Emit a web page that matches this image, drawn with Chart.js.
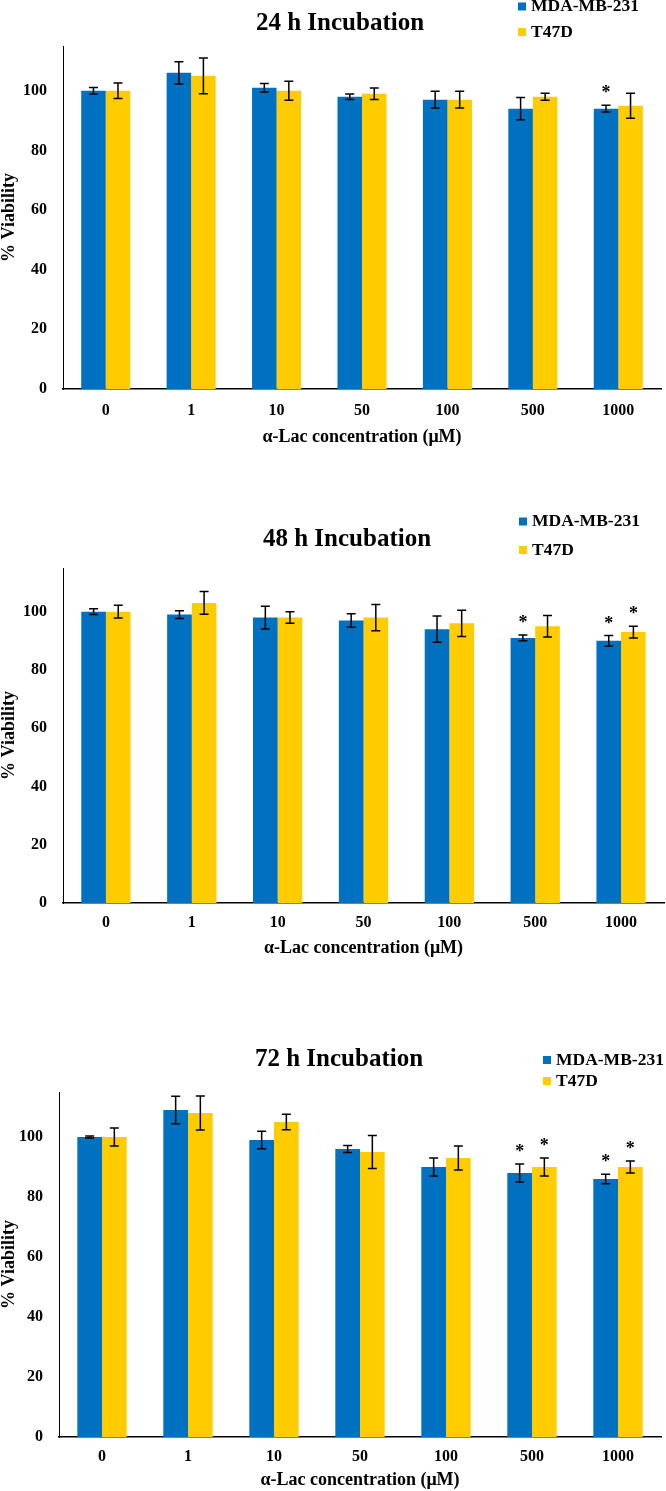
<!DOCTYPE html>
<html>
<head>
<meta charset="utf-8">
<script src="https://cdn.jsdelivr.net/npm/chart.js@4/dist/chart.umd.min.js"></script>
<style>
  html, body { margin: 0; padding: 0; background: #fff; }
  body { width: 666px; height: 1491px; position: relative; overflow: hidden; }
  .panel { position: absolute; left: 0; }
</style>
</head>
<body>
<div class="panel" style="top:0px"><canvas id="c24" width="666" height="460"></canvas></div>
<div class="panel" style="top:490px"><canvas id="c48" width="666" height="490"></canvas></div>
<div class="panel" style="top:1018px"><canvas id="c72" width="666" height="473"></canvas></div>
<script>
// ---- data ----
const categories = ['0', '1', '10', '50', '100', '500', '1000'];
const seriesNames = ['MDA-MB-231', 'T47D'];
const titles = ['24 h Incubation', '48 h Incubation', '72 h Incubation'];
const xAxisTitle = 'α-Lac concentration (μM)';
const yAxisTitle = '% Viability';

const mda24 = [100, 106, 101, 98, 97, 94, 94];
const mda24Err = [1.1, 3.7, 1.4, 0.9, 2.8, 3.7, 1.1];
const mda24Sig = [0, 0, 0, 0, 0, 0, 1];
const t47d24 = [100, 105, 100, 99, 97, 98, 95];
const t47d24Err = [2.6, 6.0, 3.2, 1.9, 2.8, 1.2, 4.2];
const t47d24Sig = [0, 0, 0, 0, 0, 0, 0];

const mda48 = [100, 99, 98, 97, 94, 91, 90];
const mda48Err = [1.0, 1.3, 3.9, 2.3, 4.5, 1.0, 1.8];
const mda48Sig = [0, 0, 0, 0, 0, 1, 1];
const t47d48 = [100, 103, 98, 98, 96, 95, 93];
const t47d48Err = [2.2, 3.9, 2.0, 4.5, 4.5, 3.7, 2.0];
const t47d48Sig = [0, 0, 0, 0, 0, 0, 1];

const mda72 = [100, 109, 99, 96, 90, 88, 86];
const mda72Err = [0.3, 4.6, 2.9, 1.2, 3.0, 3.0, 1.6];
const mda72Sig = [0, 0, 0, 0, 0, 1, 1];
const t47d72 = [100, 108, 105, 95, 93, 90, 90];
const t47d72Err = [3.0, 5.7, 2.6, 5.5, 4.0, 3.0, 2.0];
const t47d72Sig = [0, 0, 0, 0, 0, 1, 1];

const colors = ['#0070C0', '#FFCC00'];
const FONT = '"Liberation Serif", "Times New Roman", serif';

// ---- plugin: error bars, significance stars, title and legend ----
const overlay = {
  id: 'overlay',
  afterDatasetsDraw(chart) {
    const ctx = chart.ctx;
    const ys = chart.scales.y;
    chart.data.datasets.forEach((ds, i) => {
      const meta = chart.getDatasetMeta(i);
      meta.data.forEach((bar, j) => {
        const v = ds.data[j], e = ds.errors[j];
        const yt = ys.getPixelForValue(v + e);
        const yb = ys.getPixelForValue(v - e);
        ctx.save();
        ctx.strokeStyle = '#000';
        ctx.lineWidth = 1.5;
        ctx.beginPath();
        ctx.moveTo(bar.x, yt); ctx.lineTo(bar.x, yb);
        ctx.moveTo(bar.x - 4.5, yt); ctx.lineTo(bar.x + 4.5, yt);
        ctx.moveTo(bar.x - 4.5, yb); ctx.lineTo(bar.x + 4.5, yb);
        ctx.stroke();
        if (ds.sig[j]) {
          ctx.fillStyle = '#000';
          ctx.font = 'bold 18px ' + FONT;
          ctx.textAlign = 'center';
          ctx.textBaseline = 'alphabetic';
          ctx.fillText('*', bar.x, yt - 7);
        }
        ctx.restore();
      });
    });
  },
  afterDraw(chart, args, opts) {
    const ctx = chart.ctx;
    ctx.save();
    ctx.fillStyle = '#000';
    ctx.font = 'bold 25px ' + FONT;
    ctx.textAlign = 'center';
    ctx.textBaseline = 'middle';
    ctx.fillText(opts.title, opts.titleX, opts.titleY);
    ctx.font = 'bold 17.5px ' + FONT;
    ctx.textAlign = 'left';
    chart.data.datasets.forEach((ds, i) => {
      const y = opts.legendY[i];
      ctx.fillStyle = ds.backgroundColor;
      ctx.fillRect(opts.legendX, y - 4, 8, 8);
      ctx.fillStyle = '#000';
      ctx.fillText(ds.label, opts.legendX + 13, y);
    });
    ctx.restore();
  }
};

function makeChart(id, title, a, aErr, aSig, b, bErr, bSig, g) {
  return new Chart(document.getElementById(id), {
    type: 'bar',
    data: {
      labels: categories,
      datasets: [
        { label: seriesNames[0], data: a, errors: aErr, sig: aSig, backgroundColor: colors[0], borderWidth: 0 },
        { label: seriesNames[1], data: b, errors: bErr, sig: bSig, backgroundColor: colors[1], borderWidth: 0 }
      ]
    },
    options: {
      responsive: false,
      animation: false,
      devicePixelRatio: 1,
      layout: { padding: g.padding },
      datasets: { bar: { categoryPercentage: 0.574, barPercentage: 1.0 } },
      plugins: {
        legend: { display: false },
        title: { display: false },
        tooltip: { enabled: false },
        overlay: { title: title, titleX: g.titleX, titleY: g.titleY, legendX: g.legendX, legendY: g.legendY }
      },
      scales: {
        x: {
          grid: { display: false, drawTicks: false },
          border: { display: true, color: '#000', width: 1.5 },
          ticks: { color: '#000', font: { family: FONT, size: 16, weight: 'bold' }, padding: g.tickPad, maxRotation: 0 },
          title: { display: true, text: xAxisTitle, color: '#000', font: { family: FONT, size: 18, weight: 'bold' }, padding: 0 },
          afterFit: s => { s.height = g.xHeight; }
        },
        y: {
          min: 0, max: 115,
          grid: { display: false, drawTicks: false },
          border: { display: true, color: '#000', width: 1 },
          ticks: { stepSize: 20, includeBounds: false, color: '#000', font: { family: FONT, size: 16, weight: 'bold' }, padding: 16 },
          title: { display: true, text: yAxisTitle, color: '#000', font: { family: FONT, size: 18, weight: 'bold', lineHeight: 1 }, padding: 0 },
          afterFit: s => { s.width = g.yWidth; }
        }
      }
    },
    plugins: [overlay]
  });
}

makeChart('c24', titles[0], mda24, mda24Err, mda24Sig, t47d24, t47d24Err, t47d24Sig, {
  padding: { top: 46, left: 0, right: 5, bottom: 12 }, yWidth: 63, xHeight: 59, tickPad: 12,
  titleX: 340, titleY: 24, legendX: 518, legendY: [6.5, 32]
});
makeChart('c48', titles[1], mda48, mda48Err, mda48Sig, t47d48, t47d48Err, t47d48Sig, {
  padding: { top: 78, left: 0, right: 2, bottom: 21 }, yWidth: 63, xHeight: 56, tickPad: 10,
  titleX: 347, titleY: 50, legendX: 519, legendY: [31.5, 60]
});
makeChart('c72', titles[2], mda72, mda72Err, mda72Sig, t47d72, t47d72Err, t47d72Sig, {
  padding: { top: 74, left: 0, right: 5, bottom: 0 }, yWidth: 59, xHeight: 54, tickPad: 10,
  titleX: 339, titleY: 42, legendX: 543, legendY: [42, 63]
});
</script>
</body>
</html>
